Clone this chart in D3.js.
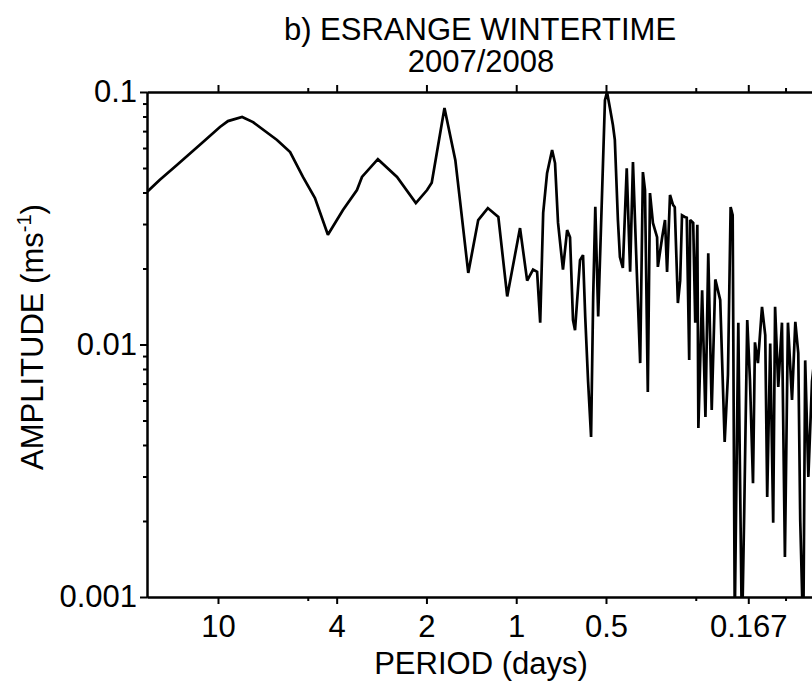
<!DOCTYPE html>
<html><head><meta charset="utf-8">
<script src="https://cdn.jsdelivr.net/npm/d3@7"></script>
<style>
body{margin:0;background:#fff}
svg{display:block}
text{font-family:"Liberation Sans",Arial,Helvetica,sans-serif;fill:#000}
</style>
</head><body>
<svg id="chart" width="812" height="682"></svg>
<script>
const titleLines = ["b) ESRANGE WINTERTIME", "2007/2008"];
const xTitle = "PERIOD (days)";
const yTitleMain = "AMPLITUDE (ms";
const yTitleSup = "-1";

const periods = [17.3,15.66,13.73,11.32,9.85,9.26,8.30,7.63,6.34,5.73,
5.19,4.73,4.28,3.81,3.42,3.29,2.91,2.51,2.17,1.99,
1.92,1.74,1.60,1.544,1.448,1.341,1.245,1.148,1.072,0.971,
0.919,0.878,0.851,0.831,0.812,0.788,0.758,0.741,0.724,0.697,
0.675,0.660,0.645,0.635,0.611,0.597,0.587,0.574,0.561,0.552,
0.543,0.531,0.515,0.504,0.496,0.485,0.474,0.467,0.456,0.449,
0.439,0.426,0.415,0.406,0.394,0.384,0.376,0.370,0.362,0.356,
0.348,0.337,0.335,0.324,0.317,0.312,0.305,0.298,0.294,0.287,
0.282,0.278,0.272,0.268,0.263,0.261,0.255,0.251,0.247,0.245,
0.238,0.232,0.227,0.221,0.215,0.207,0.200,0.195,0.191,0.188,
0.185,0.180,0.178,0.175,0.172,0.168,0.1645,0.1607,0.1583,0.1547,
0.1499,0.1462,0.1440,0.1407,0.1375,0.1355,0.1322,0.1285,0.1256,0.1227,
0.1189,0.1159,0.1133,0.1116,0.109,0.1074,0.1048,0.1019,0.0985];

const amplitudes = [0.0402,0.0449,0.0514,0.0628,0.0727,0.0767,0.0796,0.0760,0.0646,0.0578,
0.0461,0.0380,0.0272,0.0341,0.0409,0.0461,0.0542,0.0461,0.0363,0.0409,
0.0437,0.0864,0.0537,0.0373,0.0192,0.0311,0.0347,0.0320,0.0155,0.0289,
0.0179,0.0198,0.0194,0.0122,0.0332,0.0477,0.0589,0.0523,0.0303,0.0198,
0.0284,0.0266,0.0125,0.0114,0.0216,0.0226,0.0129,0.00711,0.00430,0.0154,
0.0351,0.0129,0.0409,0.0929,0.100,0.0864,0.0740,0.0646,0.0311,0.0222,
0.0201,0.0499,0.0194,0.0528,0.0192,0.00844,0.0482,0.0409,0.00648,0.0398,
0.0303,0.0266,0.0203,0.0266,0.0311,0.0194,0.0391,0.0357,0.0350,0.0146,
0.0179,0.0325,0.0320,0.0318,0.00868,0.0311,0.0303,0.0122,0.0298,0.00467,
0.0164,0.00516,0.0230,0.00550,0.0181,0.0150,0.00411,0.00757,0.0350,0.0325,
0.00081,0.0122,0.00365,0.00068,0.00215,0.0125,0.00723,0.00282,0.0102,0.00844,
0.0141,0.0109,0.00249,0.0101,0.00197,0.0141,0.00679,0.0122,0.00144,0.0122,
0.00603,0.0123,0.00925,0.00202,0.00068,0.00865,0.00299,0.00713,0.0105];

const xTickValues = [10, 4, 2, 1, 0.5, 1/6];
const xTickLabels = ["10", "4", "2", "1", "0.5", "0.167"];
const xMinorTickValues = [5, 0.25, 0.125];
const yTickValues = [0.1, 0.01, 0.001];
const yTickLabels = ["0.1", "0.01", "0.001"];

const svg = d3.select("#chart");
const L = 147, T = 92, B = 597, R = 812;
const FS = 31;

const x = d3.scaleLog().domain([17.3, 0.1019]).range([L, R]);
const y = d3.scaleLog().domain([0.001, 0.1]).range([B, T]);

const data = periods.map((p, i) => ({p, a: amplitudes[i]}));

svg.append("clipPath").attr("id", "plotclip")
  .append("rect").attr("x", L).attr("y", T - 1).attr("width", R - L).attr("height", B - T + 1);

const line = d3.line().x(d => x(d.p)).y(d => y(d.a));
svg.append("path").datum(data)
  .attr("clip-path", "url(#plotclip)")
  .attr("fill", "none").attr("stroke", "#000").attr("stroke-width", 2.7)
  .attr("stroke-linejoin", "miter").attr("stroke-miterlimit", 2)
  .attr("d", line);

function styleAxis(g) {
  g.selectAll("path.domain").attr("stroke", "#000").attr("stroke-width", 2);
  g.selectAll(".tick line").attr("stroke", "#000").attr("stroke-width", 2);
  g.selectAll(".tick text").attr("font-size", FS).attr("font-family", "Liberation Sans, Arial, sans-serif").attr("fill", "#000");
}

// bottom axis
const gb = svg.append("g").attr("transform", `translate(0,${B})`)
  .call(d3.axisBottom(x).tickValues(xTickValues).tickFormat((d, i) => xTickLabels[i]).tickSize(7).tickSizeOuter(0).tickPadding(11));
styleAxis(gb);
const gbm = svg.append("g").attr("transform", `translate(0,${B})`)
  .call(d3.axisBottom(x).tickValues(xMinorTickValues).tickFormat("").tickSize(4).tickSizeOuter(0));
styleAxis(gbm);

// top axis
const gt = svg.append("g").attr("transform", `translate(0,${T})`)
  .call(d3.axisTop(x).tickValues(xTickValues).tickFormat("").tickSize(7).tickSizeOuter(0));
styleAxis(gt);
const gtm = svg.append("g").attr("transform", `translate(0,${T})`)
  .call(d3.axisTop(x).tickValues(xMinorTickValues).tickFormat("").tickSize(4).tickSizeOuter(0));
styleAxis(gtm);

// left axis
const gl = svg.append("g").attr("transform", `translate(${L},0)`)
  .call(d3.axisLeft(y).tickValues(yTickValues).tickFormat((d, i) => yTickLabels[i]).tickSize(7).tickSizeOuter(0).tickPadding(3));
styleAxis(gl);
const yMinor = y.ticks().filter(v => !yTickValues.some(m => Math.abs(m - v) / m < 1e-6));
const glm = svg.append("g").attr("transform", `translate(${L},0)`)
  .call(d3.axisLeft(y).tickValues(yMinor).tickFormat("").tickSize(4).tickSizeOuter(0));
styleAxis(glm);

// titles
svg.append("text").attr("x", 480).attr("y", 40).attr("text-anchor", "middle")
  .attr("font-size", FS).text(titleLines[0]);
svg.append("text").attr("x", 481).attr("y", 72).attr("text-anchor", "middle")
  .attr("font-size", FS).text(titleLines[1]);

svg.append("text").attr("x", 481).attr("y", 674).attr("text-anchor", "middle")
  .attr("font-size", FS).text(xTitle);

const yt = svg.append("text").attr("transform", "translate(43,337) rotate(-90)")
  .attr("text-anchor", "middle").attr("font-size", FS);
yt.append("tspan").text(yTitleMain);
yt.append("tspan").attr("font-size", 20).attr("dy", -12).text(yTitleSup);
yt.append("tspan").attr("dy", 12).text(")");
</script>
</body></html>
